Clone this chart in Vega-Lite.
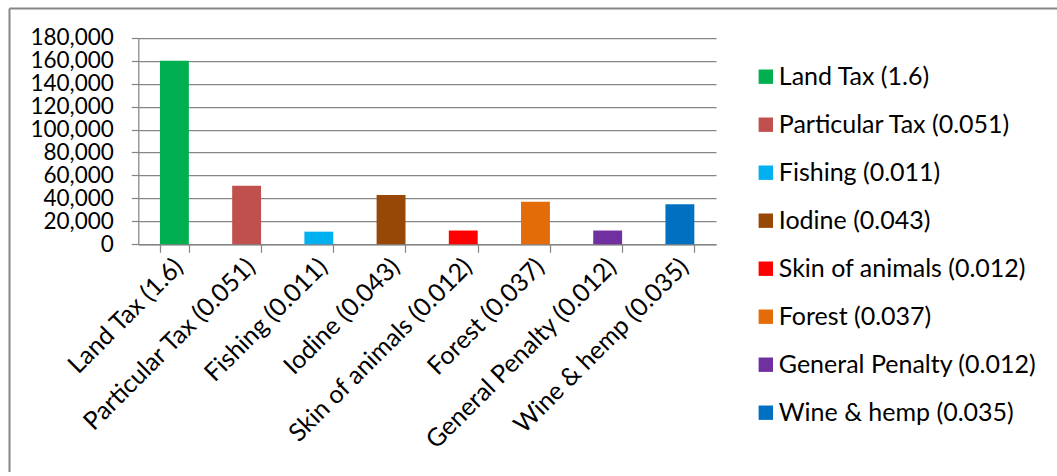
{
  "$schema": "https://vega.github.io/schema/vega-lite/v6.json",
  "width": 1048,
  "height": 464,
  "autosize": {"type": "none"},
  "padding": {"left": 9, "top": 8, "right": 0, "bottom": 0},
  "background": "white",
  "config": {
    "font": "Lato",
    "view": {"stroke": null}
  },
  "data": {
    "values": [
      {"item": "Land Tax (1.6)", "value": 160000},
      {"item": "Particular Tax (0.051)", "value": 51000},
      {"item": "Fishing (0.011)", "value": 11000},
      {"item": "Iodine (0.043)", "value": 43000},
      {"item": "Skin of animals (0.012)", "value": 12000},
      {"item": "Forest (0.037)", "value": 37000},
      {"item": "General Penalty (0.012)", "value": 12000},
      {"item": "Wine & hemp (0.035)", "value": 35000}
    ]
  },
  "layer": [
    {
      "mark": {"type": "point", "opacity": 0},
      "encoding": {
        "x": {
          "field": "value",
          "type": "quantitative",
          "scale": {"domain": [0, 1], "nice": false},
          "axis": {"orient": "top", "title": null, "labels": false, "ticks": false, "grid": false, "domain": true, "domainColor": "#868686", "domainWidth": 2, "offset": 0}
        },
        "y": {
          "field": "value",
          "type": "quantitative",
          "scale": {"domain": [0, 1], "nice": false},
          "axis": {"orient": "left", "title": null, "labels": false, "ticks": false, "grid": false, "domain": true, "domainColor": "#868686", "domainWidth": 2, "offset": 0}
        }
      }
    },
    {
      "mark": {"type": "bar"},
      "encoding": {
        "x": {
          "field": "item",
          "type": "nominal",
          "sort": null,
          "scale": {"range": [129.3, 707], "paddingInner": 0.6, "paddingOuter": 0.3},
          "axis": {
            "title": null,
            "orient": "bottom",
            "offset": -227.7,
            "labelAngle": -45,
            "labelAlign": "right",
            "labelBaseline": "middle",
            "labelFontSize": 25,
            "labelColor": "#000000",
            "labelPadding": 10,
            "labelOffset": 4,
            "labelLimit": 400,
            "labelOverlap": false,
            "tickBand": "extent",
            "tickSize": 8,
            "tickColor": "#868686",
            "tickWidth": 1.25,
            "domainColor": "#868686",
            "domainWidth": 1.25,
            "grid": false
          }
        },
        "y": {
          "field": "value",
          "type": "quantitative",
          "scale": {"domain": [0, 180000], "range": [236.3, 29.7], "nice": false},
          "axis": {
            "title": null,
            "orient": "left",
            "values": [0, 20000, 40000, 60000, 80000, 100000, 120000, 140000, 160000, 180000],
            "format": ",d",
            "offset": -129.3,
            "labelFontSize": 22.5,
            "labelColor": "#000000",
            "labelPadding": 18,
            "labelOverlap": false,
            "labelFlush": false,
            "tickSize": 7,
            "tickColor": "#868686",
            "tickWidth": 1.25,
            "domainColor": "#868686",
            "domainWidth": 1.25,
            "grid": true,
            "gridColor": "#868686",
            "gridWidth": 1.25
          }
        },
        "color": {
          "field": "item",
          "type": "nominal",
          "sort": null,
          "scale": {
            "domain": ["Land Tax (1.6)", "Particular Tax (0.051)", "Fishing (0.011)", "Iodine (0.043)", "Skin of animals (0.012)", "Forest (0.037)", "General Penalty (0.012)", "Wine & hemp (0.035)"],
            "range": ["#00B050", "#C0504D", "#00B0F0", "#974706", "#FF0000", "#E36C09", "#7030A0", "#0070C0"]
          },
          "legend": {
            "title": null,
            "orient": "none",
            "legendX": 744.3,
            "legendY": 56.2,
            "direction": "vertical",
            "symbolType": "square",
            "symbolSize": 207,
            "symbolStrokeWidth": 0,
            "labelFontSize": 25,
            "labelColor": "#000000",
            "labelOffset": 0.5,
            "labelLimit": 400,
            "rowPadding": 22,
            "padding": 0
          }
        }
      }
    }
  ],
  "resolve": {
    "scale": {"x": "independent", "y": "independent"},
    "axis": {"x": "independent", "y": "independent"}
  }
}
